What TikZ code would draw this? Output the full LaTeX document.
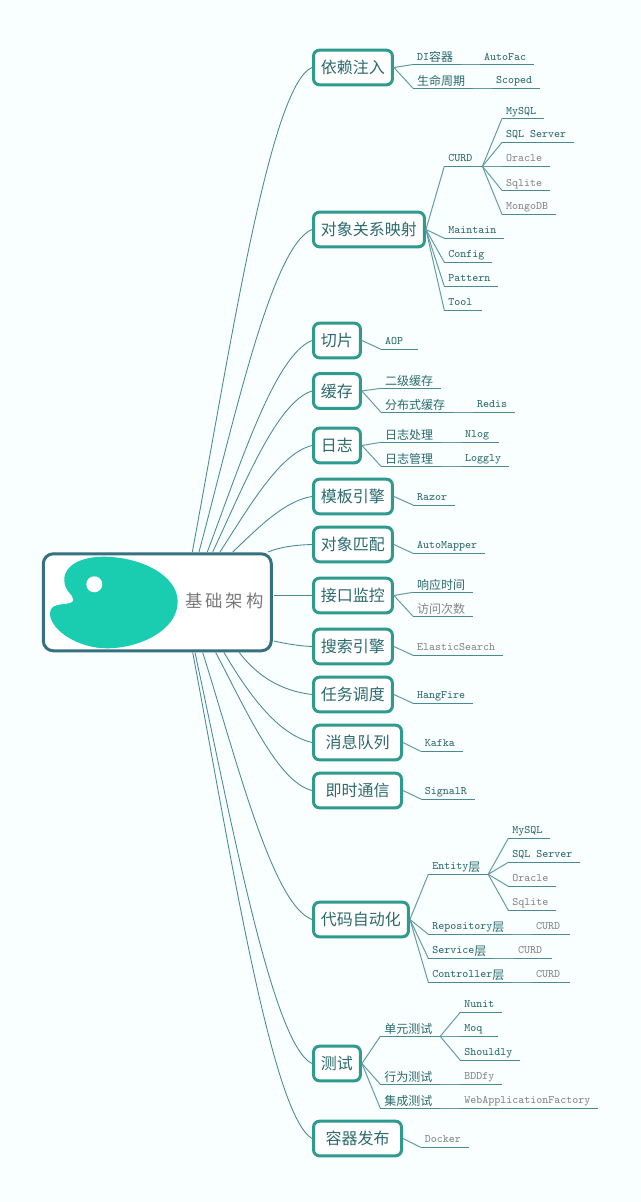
\documentclass[tikz,border=0pt]{standalone}
\usepackage{fontspec}
\setmainfont{Noto Sans CJK SC}
\newfontfamily\cjk{Noto Sans CJK SC}
\newcommand{\cn}[1]{\raisebox{-.9pt}{\cjk\fontsize{9pt}{10pt}\selectfont #1}}
\definecolor{pagebg}{HTML}{F9FEFE}
\definecolor{topicline}{HTML}{2F9A8E}
\definecolor{rootline}{HTML}{37707F}
\definecolor{inkteal}{HTML}{2B6A6E}
\definecolor{inkgray}{HTML}{868686}
\definecolor{wire}{HTML}{4A8A96}
\definecolor{palettefill}{HTML}{1ACCB0}
\tikzset{
	topic/.style={draw=topicline, line width=2.25pt, rounded corners=4.5pt, fill=white, anchor=west, minimum height=26pt, inner xsep=5.6pt, inner ysep=0pt, text=inkteal, font=\fontsize{12pt}{14pt}\selectfont},
	leaf/.style={anchor=south west, inner xsep=0pt, inner ysep=0pt, outer sep=0pt, text height=7.5pt, text depth=3.3pt, text=inkteal, font=\ttfamily\fontsize{8.57pt}{10pt}\selectfont,
		execute at begin node={\hspace*{3.1pt}}, execute at end node={\hspace*{#1}},
		append after command={(\tikzlastnode.south west) edge[rule] (\tikzlastnode.south east)}},
	leaf/.default=5.8pt,
	muted/.style={text=inkgray},
	rule/.style={draw=wire, line width=.75pt},
	link/.style={draw=wire, line width=.65pt},
	sublink/.style={draw=wire!85, line width=.75pt},
}
\begin{document}
\begin{tikzpicture}[x=.75pt, y=-.75pt]
	\fill[pagebg] (0,0) rectangle (641,1202);

	\node[draw=rootline, line width=2.25pt, rounded corners=7.5pt, fill=white, minimum width=171pt, minimum height=72.75pt] (root) at (157.3,602.3) {};
	\fill[palettefill] (64.3,580) .. controls (64,565) and (82,556.7) .. (103.3,556.7)
		.. controls (140,556.7) and (177.7,575) .. (177.7,601.7)
		.. controls (177.7,630) and (140,648.3) .. (106.7,648.3)
		.. controls (78,648.3) and (50,630) .. (50,613.3)
		.. controls (50,600) and (73,607) .. (73.3,600)
		.. controls (73.5,594) and (64.5,592) .. (64.3,580) -- cycle;
	\fill[white] (94.3,584.3) circle (8);
	\node[text=inkgray!90!black, font=\fontsize{13pt}{14pt}\selectfont] (rootlabel) at (224.5,601) {基\hspace{2.2pt}础\hspace{2.2pt}架\hspace{2.2pt}构};

	\node[topic] (inject) at (312,67.5) {依赖注入};
	\node[topic] (orm) at (312,229.5) {对象关系映射};
	\node[topic] (slice) at (312,340.5) {切片};
	\node[topic] (cache) at (312,391) {缓存};
	\node[topic] (logging) at (312,445.5) {日志};
	\node[topic] (template) at (312,496.5) {模板引擎};
	\node[topic] (mapper) at (312,544.5) {对象匹配};
	\node[topic] (monitor) at (312,595.5) {接口监控};
	\node[topic] (search) at (312,646.5) {搜索引擎};
	\node[topic] (task) at (312,694.5) {任务调度};
	\node[topic, minimum width=66pt] (mq) at (312,742.5) {消息队列};
	\node[topic, minimum width=66pt] (im) at (312,790.5) {即时通信};
	\node[topic] (codegen) at (312,919.5) {代码自动化};
	\node[topic] (testing) at (312,1063.5) {测试};
	\node[topic, minimum width=66pt] (publish) at (312,1138.5) {容器发布};

	\coordinate (t1) at (192.3,552);
	\coordinate (t2) at (199,552);
	\coordinate (t3) at (207.3,552);
	\coordinate (t4) at (212.7,552);
	\coordinate (t5) at (220,552);
	\coordinate (t6) at (232.7,552);
	\coordinate (t7) at (268,552);
	\coordinate (r1) at (274,595.5);
	\coordinate (r2) at (274,641);
	\coordinate (b1) at (239.3,652.5);
	\coordinate (b2) at (224,652.5);
	\coordinate (b3) at (215.7,652.5);
	\coordinate (b4) at (202.7,652.5);
	\coordinate (b5) at (195,652.5);
	\coordinate (b6) at (192.7,652.5);
	\draw[link] (t1) .. controls (230,350) and (270,85) .. (inject.west);
	\draw[link] (t2) .. controls (235,417) and (272,246) .. (orm.west);
	\draw[link] (t3) .. controls (240.8,463) and (275,355) .. (slice.west);
	\draw[link] (t4) .. controls (244.5,484) and (277,402) .. (cache.west);
	\draw[link] (t5) .. controls (249,507) and (280,453) .. (logging.west);
	\draw[link] (t6) .. controls (258,528) and (284,501) .. (template.west);
	\draw[link] (t7) .. controls (280,547) and (295,545) .. (mapper.west);
	\draw[link] (r1) -- (monitor.west);
	\draw[link] (r2) .. controls (287,644) and (300,646) .. (search.west);
	\draw[link] (b1) .. controls (258,677) and (282,691) .. (task.west);
	\draw[link] (b2) .. controls (252,700) and (280,735) .. (mq.west);
	\draw[link] (b3) .. controls (247,712) and (278,782) .. (im.west);
	\draw[link] (b4) .. controls (238,765) and (273,905) .. (codegen.west);
	\draw[link] (b5) .. controls (232,825) and (273,1045) .. (testing.west);
	\draw[link] (b6) .. controls (231,856) and (272,1115) .. (publish.west);

	\node[leaf] (dicontainer) at (413,64.5) {DI\cn{容器}};
	\node[leaf] (autofac) at (480,64.5) {AutoFac};
	\node[leaf] (lifetime) at (413,88.3) {\cn{生命周期}};
	\node[leaf] (scoped) at (492,88.3) {Scoped};
	\draw[sublink] (inject.east) -- (dicontainer.south west);
	\draw[sublink] (inject.east) -- (lifetime.south west);
	\draw[sublink] (dicontainer.south east) -- (autofac.south west);
	\draw[sublink] (lifetime.south east) -- (scoped.south west);

	\node[leaf=7.5pt] (curd) at (444.3,166.3) {CURD};
	\node[leaf] (mysql) at (502,118.5) {MySQL};
	\node[leaf] (sqlserver) at (502,142.4) {SQL Server};
	\node[leaf, muted] (oracle) at (502,166.3) {Oracle};
	\node[leaf, muted] (sqlite) at (502,190.4) {Sqlite};
	\node[leaf, muted] (mongodb) at (502,214.3) {MongoDB};
	\node[leaf] (maintain) at (444.3,238.3) {Maintain};
	\node[leaf] (config) at (444.3,262.3) {Config};
	\node[leaf] (pattern) at (444.3,286.3) {Pattern};
	\node[leaf=7.5pt] (tool) at (444.3,310.3) {Tool};
	\draw[sublink] (orm.east) -- (curd.south west);
	\draw[sublink] (orm.east) -- (maintain.south west);
	\draw[sublink] (orm.east) -- (config.south west);
	\draw[sublink] (orm.east) -- (pattern.south west);
	\draw[sublink] (orm.east) -- (tool.south west);
	\draw[sublink] (curd.south east) -- (mysql.south west);
	\draw[sublink] (curd.south east) -- (sqlserver.south west);
	\draw[sublink] (curd.south east) -- (oracle.south west);
	\draw[sublink] (curd.south east) -- (sqlite.south west);
	\draw[sublink] (curd.south east) -- (mongodb.south west);

	\node[leaf=11.25pt] (aop) at (381,349.3) {AOP};
	\draw[sublink] (slice.east) -- (aop.south west);

	\node[leaf] (level2) at (381,388.3) {\cn{二级缓存}};
	\node[leaf] (distcache) at (381,412.3) {\cn{分布式缓存}};
	\node[leaf] (redis) at (473,412.3) {Redis};
	\draw[sublink] (cache.east) -- (level2.south west);
	\draw[sublink] (cache.east) -- (distcache.south west);
	\draw[sublink] (distcache.south east) -- (redis.south west);

	\node[leaf] (logproc) at (381,442.3) {\cn{日志处理}};
	\node[leaf=7.5pt] (nlog) at (461,442.3) {Nlog};
	\node[leaf] (logmgmt) at (381,466.3) {\cn{日志管理}};
	\node[leaf] (loggly) at (461,466.3) {Loggly};
	\draw[sublink] (logging.east) -- (logproc.south west);
	\draw[sublink] (logging.east) -- (logmgmt.south west);
	\draw[sublink] (logproc.south east) -- (nlog.south west);
	\draw[sublink] (logmgmt.south east) -- (loggly.south west);

	\node[leaf] (razor) at (413,505) {Razor};
	\draw[sublink] (template.east) -- (razor.south west);
	\node[leaf] (automapper) at (413,553.3) {AutoMapper};
	\draw[sublink] (mapper.east) -- (automapper.south west);

	\node[leaf] (response) at (413,592.3) {\cn{响应时间}};
	\node[leaf, muted] (visits) at (413,616.3) {\cn{访问次数}};
	\draw[sublink] (monitor.east) -- (response.south west);
	\draw[sublink] (monitor.east) -- (visits.south west);

	\node[leaf, muted] (elastic) at (413,655.3) {ElasticSearch};
	\draw[sublink] (search.east) -- (elastic.south west);
	\node[leaf] (hangfire) at (413,703.3) {HangFire};
	\draw[sublink] (task.east) -- (hangfire.south west);
	\node[leaf] (kafka) at (420.7,751.3) {Kafka};
	\draw[sublink] (mq.east) -- (kafka.south west);
	\node[leaf] (signalr) at (420.7,799) {SignalR};
	\draw[sublink] (im.east) -- (signalr.south west);

	\node[leaf] (entity) at (428.3,874.3) {Entity\cn{层}};
	\node[leaf] (mysqlb) at (508.3,838.3) {MySQL};
	\node[leaf] (sqlserverb) at (508.3,862.3) {SQL Server};
	\node[leaf, muted] (oracleb) at (508.3,886.3) {Oracle};
	\node[leaf, muted] (sqliteb) at (508.3,910.3) {Sqlite};
	\node[leaf] (repository) at (428.3,934.3) {Repository\cn{层}};
	\node[leaf=7.5pt, muted] (curdrepo) at (532,934.3) {CURD};
	\node[leaf] (service) at (428.3,958.3) {Service\cn{层}};
	\node[leaf=7.5pt, muted] (curdserv) at (514,958.3) {CURD};
	\node[leaf] (controller) at (428.3,982.3) {Controller\cn{层}};
	\node[leaf=7.5pt, muted] (curdctrl) at (532,982.3) {CURD};
	\draw[sublink] (codegen.east) -- (entity.south west);
	\draw[sublink] (codegen.east) -- (repository.south west);
	\draw[sublink] (codegen.east) -- (service.south west);
	\draw[sublink] (codegen.east) -- (controller.south west);
	\draw[sublink] (entity.south east) -- (mysqlb.south west);
	\draw[sublink] (entity.south east) -- (sqlserverb.south west);
	\draw[sublink] (entity.south east) -- (oracleb.south west);
	\draw[sublink] (entity.south east) -- (sqliteb.south west);
	\draw[sublink] (repository.south east) -- (curdrepo.south west);
	\draw[sublink] (service.south east) -- (curdserv.south west);
	\draw[sublink] (controller.south east) -- (curdctrl.south west);

	\node[leaf] (unit) at (380.3,1036.3) {\cn{单元测试}};
	\node[leaf] (nunit) at (460.3,1012.3) {Nunit};
	\node[leaf=11.6pt] (moq) at (460.3,1036.3) {Moq};
	\node[leaf] (shouldly) at (460.3,1060.3) {Shouldly};
	\node[leaf] (behavior) at (380.3,1084.3) {\cn{行为测试}};
	\node[leaf, muted] (bddfy) at (460.3,1084.3) {BDDfy};
	\node[leaf] (integration) at (380.3,1108.3) {\cn{集成测试}};
	\node[leaf, muted] (webfactory) at (460.3,1108.3) {WebApplicationFactory};
	\draw[sublink] (testing.east) -- (unit.south west);
	\draw[sublink] (testing.east) -- (behavior.south west);
	\draw[sublink] (testing.east) -- (integration.south west);
	\draw[sublink] (unit.south east) -- (nunit.south west);
	\draw[sublink] (unit.south east) -- (moq.south west);
	\draw[sublink] (unit.south east) -- (shouldly.south west);
	\draw[sublink] (behavior.south east) -- (bddfy.south west);
	\draw[sublink] (integration.south east) -- (webfactory.south west);

	\node[leaf, muted] (docker) at (420.7,1147.3) {Docker};
	\draw[sublink] (publish.east) -- (docker.south west);
\end{tikzpicture}
\end{document}
